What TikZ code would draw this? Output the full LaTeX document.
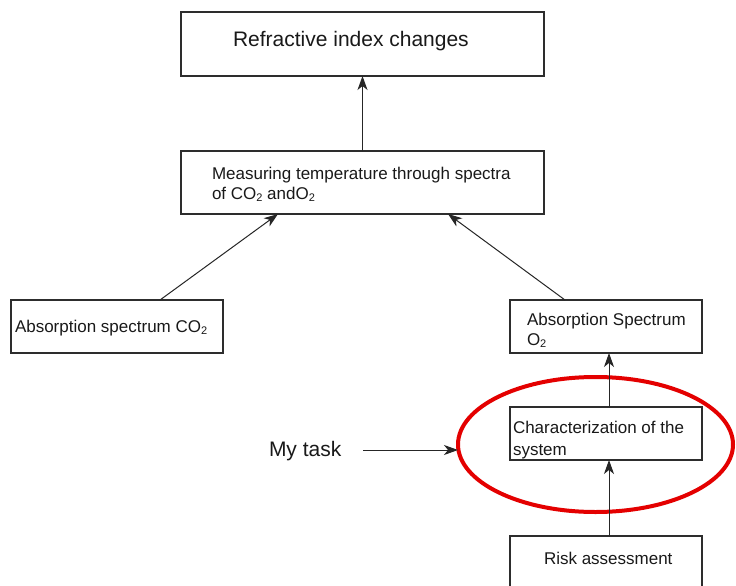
\documentclass[tikz,border=0pt]{standalone}
\usepackage{fontspec}
\setmainfont{Liberation Sans}
\usetikzlibrary{arrows.meta,shapes.geometric}
\definecolor{ringred}{RGB}{228,0,0}
\definecolor{boxline}{RGB}{45,45,45}
\newcommand{\subtwo}{\raisebox{-0.3ex}{\fontsize{11}{11}\selectfont 2}}
\begin{document}
\begin{tikzpicture}[x=1pt,y=-1pt,
  box/.style={draw=boxline,line width=1.1pt,rectangle,inner sep=0pt,outer sep=0pt},
  txt/.style={anchor=base west,inner sep=0pt,outer sep=0pt,font=\fontsize{17}{20}\selectfont,text=black!90},
  bigtxt/.style={anchor=base west,inner sep=0pt,outer sep=0pt,font=\fontsize{21}{24}\selectfont,text=black!90},
  arr/.style={draw=black!85,line width=1pt,-{Stealth[length=14pt,width=10pt,inset=4pt]}},
  ring/.style={draw=ringred,line width=4pt,ellipse,inner sep=0pt,outer sep=0pt}]
\useasboundingbox (0,0) rectangle (736,586);
\clip (0,0) rectangle (736,586);
\fill[white] (0,0) rectangle (736,586);
% boxes
\node[box,minimum width=363pt,minimum height=64pt] (ref) at (362.5,44) {};
\node[box,minimum width=363pt,minimum height=63pt] (meas) at (362.5,182.5) {};
\node[box,minimum width=212pt,minimum height=53pt] (co2) at (117,326.5) {};
\node[box,minimum width=192pt,minimum height=53pt] (o2) at (606,326.5) {};
\node[box,minimum width=192pt,minimum height=53pt] (char) at (606,433.5) {};
\node[box,minimum width=192pt,minimum height=64pt] (risk) at (606,568) {};
% texts
\node[bigtxt] (reft) at (233,47) {Refractive index changes};
\node[txt] (meast1) at (212,179) {Measuring temperature through spectra};
\node[txt] (meast2) at (212,199) {of CO\subtwo{} andO\subtwo};
\node[txt] (co2t) at (15,332) {Absorption spectrum CO\subtwo};
\node[txt] (o2t1) at (527,325) {Absorption Spectrum};
\node[txt] (o2t2) at (527,345) {O\subtwo};
\node[txt] (chart1) at (513,433) {Characterization of the};
\node[txt] (chart2) at (513,455) {system};
\node[txt] (riskt) at (544,564) {Risk assessment};
\node[bigtxt] (task) at (269,456) {My task};
% ring
\node[ring,minimum width=275pt,minimum height=135pt] (ringnode) at (595.5,444.5) {};
% connectors
\draw[arr] (meas.north) -- (ref.south);
\draw[arr] ([xshift=149pt]co2.north west) -- ([xshift=97pt]meas.south west);
\draw[arr] ([xshift=55pt]o2.north west) -- ([xshift=267pt]meas.south west);
\draw[arr] ([xshift=99pt]char.north west) -- ([xshift=99pt]o2.south west);
\draw[arr] ([xshift=99pt]risk.north west) -- ([xshift=99pt]char.south west);
\coordinate (taskstart) at (363,450);
\draw[arr] (taskstart) -- (ringnode.west |- taskstart);
\end{tikzpicture}
\end{document}
